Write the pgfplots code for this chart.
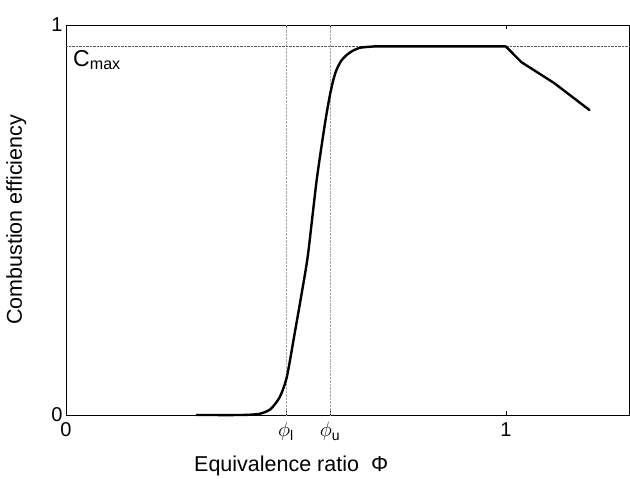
\documentclass[border=0pt]{standalone}
\usepackage{pgfplots}
\pgfplotsset{compat=1.18}
\usepackage{fontspec}
\setmainfont{Liberation Sans}
\begin{document}
\begin{tikzpicture}
\path[use as bounding box] (-66pt,-64pt) rectangle (564pt,415pt);
\begin{axis}[name=ax, at={(0,0)}, anchor=south west,
  width=563pt, height=390pt, scale only axis,
  xmin=0, xmax=1.28, ymin=0, ymax=1,
  xtick={0,0.5,0.6,1}, xticklabels={0,\(\phi\)\textsubscript{l},\(\phi\)\textsubscript{u},1},
  ytick={0,1}, yticklabels={0,1},
  tick align=inside, major tick length=4pt,
  tick style={black, thin},
  axis line style={black, line width=0.8pt},
  ticklabel style={font=\fontsize{20}{22}\selectfont},
  xticklabel style={yshift=-4pt},
  xlabel={Equivalence ratio\ \ Φ}, ylabel={Combustion efficiency},
  label style={font=\fontsize{21.5}{24}\selectfont},
  xlabel style={at={(axis description cs:0.40,-0.097)}, anchor=north},
  ylabel style={at={(axis description cs:-0.064,0.5)}, anchor=south, rotate=0},
  clip=false,
]
\addplot[gray!70, densely dotted, thin] coordinates {(0.5,0) (0.5,1)};
\addplot[gray!70, densely dotted, thin] coordinates {(0.6,0) (0.6,1)};
\addplot[gray!70!black, densely dotted, thin] coordinates {(0,0.945) (1.28,0.945)};
\addplot[black, line width=2.4pt, smooth, tension=0.4, line join=round] coordinates {
(0.295,0.0) (0.40,0.0) (0.44,0.003) (0.465,0.015) (0.486,0.046) (0.502,0.097)
(0.520,0.21) (0.536,0.313) (0.550,0.41) (0.570,0.603) (0.589,0.749) (0.600,0.82)
(0.608,0.86) (0.615,0.885) (0.625,0.907) (0.637,0.922) (0.652,0.934) (0.67,0.942)
(0.70,0.945)};
\addplot[black, line width=2.4pt, line join=round, line cap=round] coordinates {
(0.70,0.945) (1.0,0.945) (1.035,0.905) (1.11,0.851) (1.19,0.782)};
\node[anchor=north west, inner sep=0pt, font=\fontsize{23}{25}\selectfont] at (axis cs:0.016,0.936) {C\textsubscript{max}};
\end{axis}
\end{tikzpicture}
\end{document}
